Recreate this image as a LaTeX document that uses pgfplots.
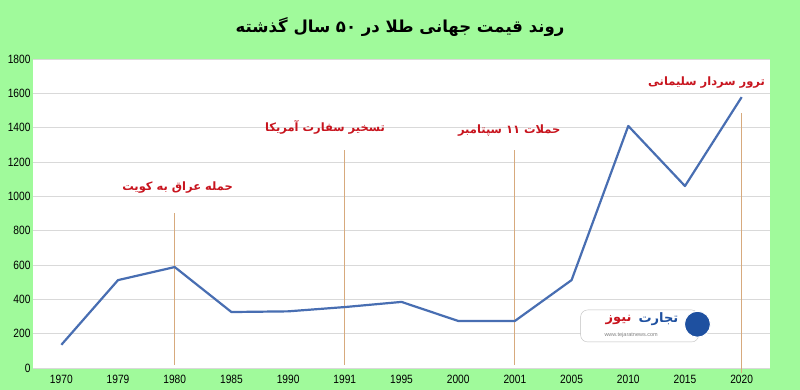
\documentclass[border=0pt]{standalone}
\usepackage{fontspec}
\usepackage{pgfplots}
\pgfplotsset{compat=1.18}
\TeXXeTstate=1
\setmainfont{Liberation Sans}
\newfontfamily\tickfont[FakeStretch=0.85]{Liberation Sans}
\newfontfamily\arabicfont[Script=Arabic]{DejaVu Sans}
\definecolor{bg}{RGB}{160,250,155}
\definecolor{lineblue}{RGB}{72,110,178}
\definecolor{vline}{RGB}{215,170,125}
\definecolor{annot}{RGB}{200,20,30}
\definecolor{logoblue}{RGB}{30,80,160}
\begin{document}
\begin{tikzpicture}[x=1pt,y=1pt]
\fill[bg] (0,0) rectangle (800,390);
\node[font=\arabicfont\bfseries\fontsize{16.5}{20}\selectfont] at (400,363) {\beginR روند قیمت جهانی طلا در ۵۰ سال گذشته\endR};
\begin{axis}[at={(33pt,22pt)}, anchor=south west, scale only axis,
  width=737pt, height=309pt,
  xmin=-0.5, xmax=12.5, ymin=0, ymax=1800,
  ytick={0,200,...,1800}, xtick={0,...,12},
  xticklabels={1970,1979,1980,1985,1990,1991,1995,2000,2001,2005,2010,2015,2020},
  ymajorgrids, grid style={gray!30, line width=0.6pt},
  axis line style={draw=none}, major tick length=0pt,
  axis background/.style={fill=white},
  tick label style={font=\tickfont\fontsize{12}{13}\selectfont},
  yticklabel style={xshift=1pt},
  /pgf/number format/assume math mode=true,
  /pgf/number format/1000 sep={},
  xticklabel style={yshift=-4pt},
  clip=false]
\addplot[vline, line width=0.8pt] coordinates {(2,20) (2,905)};
\addplot[vline, line width=0.8pt] coordinates {(5,20) (5,1270)};
\addplot[vline, line width=0.8pt] coordinates {(8,20) (8,1270)};
\addplot[vline, line width=0.8pt] coordinates {(12,-30) (12,1485)};
\addplot[lineblue, line width=2.2pt, line join=round] coordinates {
(0,135) (1,512) (2,588) (3,326) (4,330) (5,355) (6,385) (7,274) (8,274) (9,512) (10,1410) (11,1060) (12,1578)};
\node[font=\arabicfont\bfseries\fontsize{11.5}{13}\selectfont, text=annot] at (axis cs:2.05,1054) {\beginR حمله عراق به کویت\endR};
\node[font=\arabicfont\bfseries\fontsize{11.5}{13}\selectfont, text=annot] at (axis cs:4.65,1404) {\beginR تسخیر سفارت آمریکا\endR};
\node[font=\arabicfont\bfseries\fontsize{11.5}{13}\selectfont, text=annot] at (axis cs:7.9,1386) {\beginR حملات ۱۱ سپتامبر\endR};
\node[font=\arabicfont\bfseries\fontsize{11.5}{13}\selectfont, text=annot] at (axis cs:11.38,1660) {\beginR ترور سردار سلیمانی\endR};
\node[draw=gray!50, fill=white, rounded corners=7pt, minimum width=118pt, minimum height=32pt] at (axis cs:10.2,245) {};
\node[font=\arabicfont\bfseries\fontsize{13}{14}\selectfont, text=logoblue, anchor=west] at (axis cs:10.12,282) {\beginR تجارت\endR};
\node[font=\arabicfont\bfseries\fontsize{13}{14}\selectfont, text=annot, anchor=east] at (axis cs:10.12,282) {\beginR نیوز\endR};
\node[font=\fontsize{5.5}{6}\selectfont, text=gray] at (axis cs:10.05,190) {www.tejaratnews.com};
\node[circle, fill=logoblue, minimum size=26pt, draw=white, line width=1pt] at (axis cs:11.22,255) {};
\end{axis}
\end{tikzpicture}
\end{document}
